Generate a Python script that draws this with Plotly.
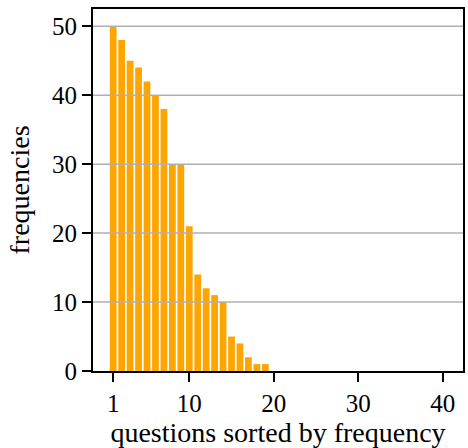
import plotly.graph_objects as go

# Frequency of each question, sorted in descending order (40 questions)
ranks = list(range(1, 41))
frequencies = [50, 48, 45, 44, 42, 40, 38, 30, 30, 21,
               14, 12, 11, 10, 5, 4, 2, 1, 1] + [0] * 21

x_ticks = [1, 10, 20, 30, 40]
y_ticks = [0, 10, 20, 30, 40, 50]

FONT = "Liberation Serif"

fig = go.Figure(
    go.Bar(x=ranks, y=frequencies, marker=dict(color="#FFA500", line_width=0),
           width=0.8)
)

# Horizontal grid lines drawn over the bars
for v in y_ticks[1:]:
    fig.add_shape(type="line", xref="paper", yref="y", x0=0, x1=1, y0=v, y1=v,
                  line=dict(color="#b0b0b0", width=1.5), layer="above")

fig.update_layout(
    width=468, height=448,
    margin=dict(l=93, r=3, t=9, b=77),
    plot_bgcolor="white", paper_bgcolor="white",
    font=dict(family=FONT, size=25, color="black"),
    showlegend=False,
    bargap=0.2,
)
fig.update_xaxes(
    range=[-1.39, 42.39], tickvals=x_ticks, ticktext=[str(t) for t in x_ticks],
    showgrid=False, zeroline=False,
    showline=True, linecolor="black", linewidth=2, mirror=True,
    ticks="outside", ticklen=9, tickwidth=1.5, tickcolor="black",
    title=dict(text="questions sorted by frequency", standoff=6,
               font=dict(size=28)),
    layer="above traces",
)
fig.update_yaxes(
    range=[0, 52.5], tickvals=y_ticks, ticktext=[str(t) for t in y_ticks],
    showgrid=False, zeroline=False,
    showline=True, linecolor="black", linewidth=2, mirror=True,
    ticks="outside", ticklen=9, tickwidth=1.5, tickcolor="black",
    title=dict(text="frequencies", standoff=14, font=dict(size=28)),
    layer="above traces",
)

fig.write_html("out.html")
